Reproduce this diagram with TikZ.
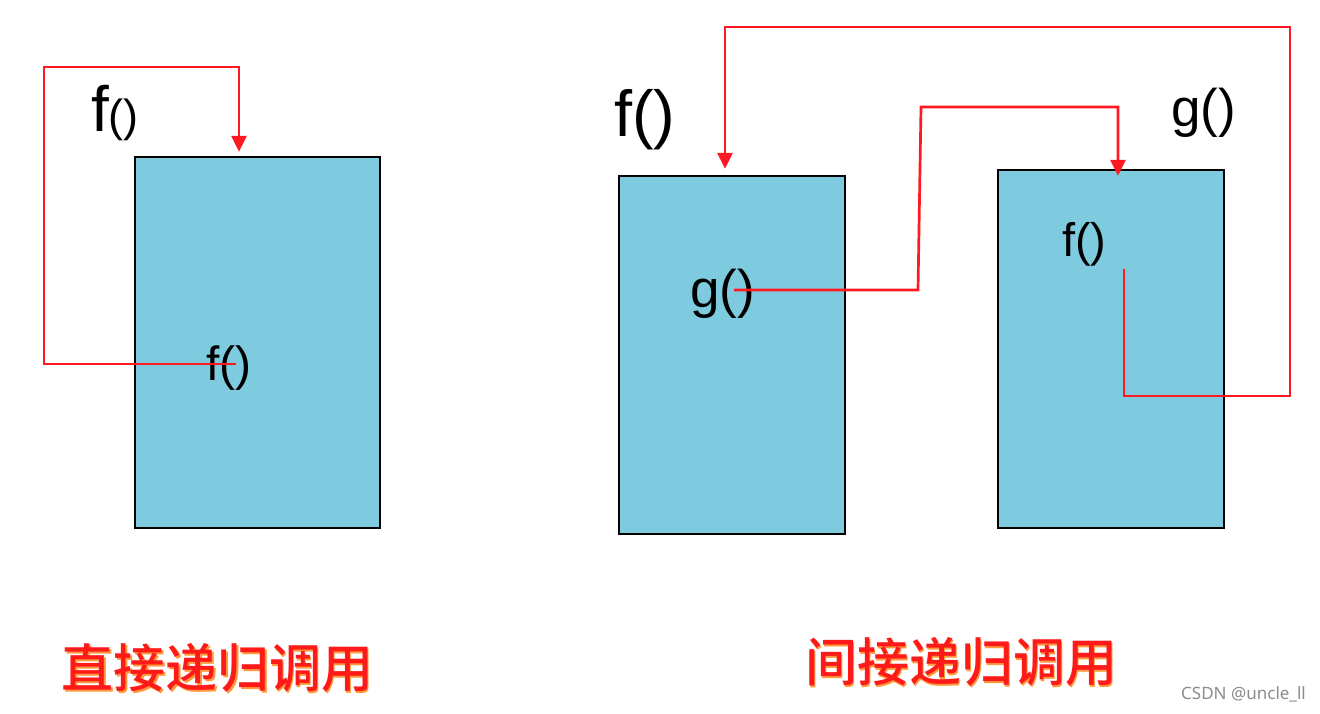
\documentclass[tikz,border=0pt]{standalone}
\usepackage{fontspec}
\setmainfont{Liberation Sans}
\newfontfamily\cjk{Noto Sans CJK SC Medium}
\newfontfamily\wm{Noto Sans}
\usetikzlibrary{arrows.meta}
\definecolor{boxblue}{HTML}{7ECBDF}
\definecolor{callred}{HTML}{FF1A22}
\definecolor{titlered}{HTML}{FF1A1A}
\definecolor{shadoworange}{HTML}{FF9A3C}
\begin{document}
\begin{tikzpicture}[x=1pt,y=-1pt,
  box/.style={draw=black,line width=2.3pt,fill=boxblue,inner sep=0pt,minimum width=#1},
  lbl/.style={anchor=base west,inner sep=0pt,text=black},
  call/.style={draw=callred,line width=2.7pt},
  callarrow/.style={call,-{Triangle[width=15pt,length=16pt]}},
  ttl/.style={inner sep=0pt,font=\cjk\fontsize{52}{52}\selectfont},
]
\useasboundingbox (0,0) rectangle (1320,714);
\fill[white] (0,0) rectangle (1320,714);

% boxes
\node[box=245pt,minimum height=371pt] (b1) at (257.5,342.5) {};
\node[box=226pt,minimum height=358pt] (b2) at (732,355) {};
\node[box=226pt,minimum height=358pt] (b3) at (1111,349) {};

% labels
\node[lbl,font=\fontsize{64}{64}\selectfont] (lf) at (91,132) {f{\fontsize{45}{45}\selectfont()}};
\node[lbl,font=\fontsize{48}{48}\selectfont] (if1) at (206,380) {f()};
\node[lbl,font=\fontsize{65}{65}\selectfont] (rf) at (614,137) {f()};
\node[lbl,font=\fontsize{53}{53}\selectfont] (rg) at (1171,127) {g()};
\node[lbl,font=\fontsize{53}{53}\selectfont] (ig) at (690,307) {g()};
\node[lbl,font=\fontsize{47}{47}\selectfont] (if2) at (1062,257) {f()};

% direct recursion loop
\coordinate (s1) at (236,364);
\coordinate (k1) at (44,364);
\coordinate (k2) at (44,67);
\coordinate (k3) at (239,67);
\draw[callarrow,shorten >=4pt] (s1) -- (k1) -- (k2) -- (k3) -- (k3 |- b1.north);

% indirect: g() in f -> g
\coordinate (sa) at (734,290);
\coordinate (a1) at (918,290);
\coordinate (a2) at (921,107);
\coordinate (a3) at (1118,107);
\draw[callarrow,shorten >=-7pt] (sa) -- (a1) -- (a2) -- (a3) -- (a3 |- b3.north);

% indirect: f() in g -> f
\coordinate (sb) at (1124,269);
\coordinate (c1) at (1124,396);
\coordinate (c2) at (1290,396);
\coordinate (c3) at (1290,27);
\coordinate (c4) at (725,27);
\draw[callarrow,shorten >=6pt] (sb) -- (c1) -- (c2) -- (c3) -- (c4) -- (c4 |- b2.north);

% titles
\node[ttl,text=shadoworange] at (219,669.5) {直接递归调用};
\node[ttl,text=titlered] (t1) at (217.5,668) {直接递归调用};
\node[ttl,text=shadoworange] at (962.5,663.5) {间接递归调用};
\node[ttl,text=titlered] (t2) at (961,662) {间接递归调用};

% watermark
\node[anchor=base east,inner sep=0pt,text=black!45,font=\wm\fontsize{17}{17}\selectfont] (wm) at (1306,699) {CSDN @uncle\_ll};
\end{tikzpicture}
\end{document}
